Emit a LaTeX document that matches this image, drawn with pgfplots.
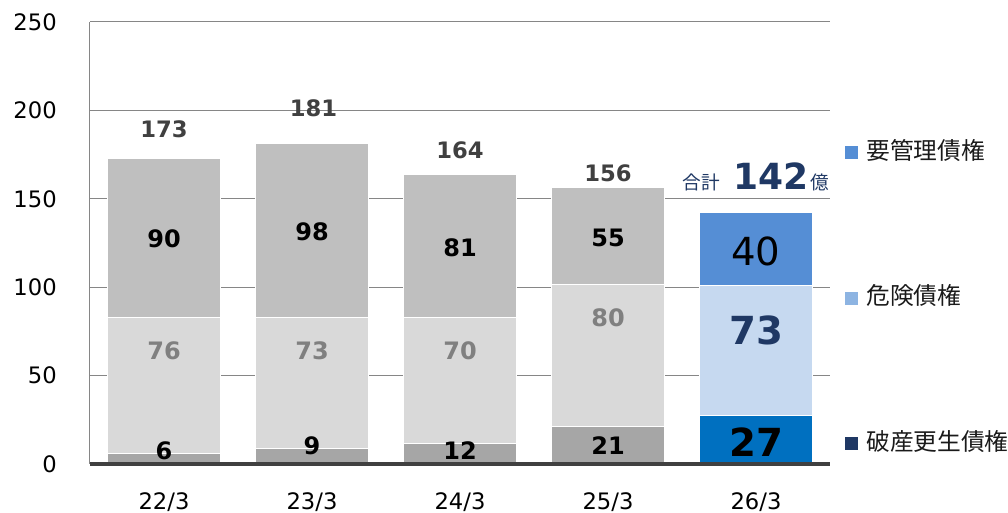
\documentclass[border=0pt]{standalone}
\usepackage{pgfplots}
\pgfplotsset{compat=1.18}
\usepackage{pgfplotstable}
\usepackage{fontspec}
\setmainfont{DejaVu Sans}
\newfontfamily\jp{Noto Sans CJK JP}
\definecolor{gtop}{HTML}{BFBFBF}
\definecolor{gmid}{HTML}{D9D9D9}
\definecolor{gbot}{HTML}{A6A6A6}
\definecolor{btop}{HTML}{558ED5}
\definecolor{bmid}{HTML}{C6D9F0}
\definecolor{bbot}{HTML}{0070C0}
\definecolor{legmid}{HTML}{8DB4E2}
\definecolor{navy}{HTML}{1F3864}
\definecolor{gridgray}{HTML}{868686}
\definecolor{axisdark}{HTML}{404040}
\definecolor{midlab}{HTML}{808080}
\definecolor{legtext}{HTML}{1A1A1A}

\pgfplotstableread{
x bot mid top
0 6.2 76.8 90
1 9 74 98
2 11.5 71.5 81
3 21 80.5 55
4 0 0 0
}\graytab
\pgfplotstableread{
x bot mid top
0 0 0 0
1 0 0 0
2 0 0 0
3 0 0 0
4 27.4 73.6 41
}\bluetab
\pgfplotstableread{
x y lab
0 189.1 173
1.01 201 181
2 177.2 164
3 164.2 156
}\totals
\pgfplotstableread{
x y lab
0 127.4 90
1 131.2 98
2 122.3 81
3 128 55
}\toplab
\pgfplotstableread{
x y lab
0 64.2 76
1 64.2 73
2 64.2 70
3 82.7 80
}\midlab
\pgfplotstableread{
x y lab
0 7.5 6
1 10.2 9
2 7.5 12
3 10.2 21
}\botlab

\begin{document}
\begin{tikzpicture}
\useasboundingbox (0,0) rectangle (756pt,384.75pt);
\begin{axis}[
  at={(67.5pt,36.75pt)}, anchor=south west,
  scale only axis, width=555pt, height=331.5pt,
  xmin=-0.5, xmax=4.5, ymin=0, ymax=250,
  ybar stacked, bar width=84.75pt,
  ytick={0,50,...,250},
  xtick={0,...,4}, xticklabels={22/3,23/3,24/3,25/3,26/3},
  ymajorgrids, grid style={color=gridgray, line width=0.75pt},
  axis lines*=left,
  x axis line style={line width=3pt, color=axisdark},
  y axis line style={line width=0.75pt, color=gridgray},
  major tick length=0pt, tick style={draw=none},
  ticklabel style={font=\fontsize{17}{20}\selectfont, inner sep=0pt, text=black},
  yticklabel style={anchor=east, xshift=-24.75pt},
  xticklabel style={anchor=north, yshift=-21pt},
  /pgf/number format/assume math mode=true,
  clip=false,
  reverse legend,
  legend cell align=left,
  legend style={at={(axis description cs:1.0203,0.7285)}, anchor=north west,
    draw=none, fill=none, inner sep=0pt, row sep=93pt,
    font=\jp\fontsize{17.8}{19}\selectfont, text=legtext,
    nodes={inner sep=0pt, text height=13pt, text depth=3pt},
    /tikz/every odd column/.append style={column sep=6pt}},
]
\addplot[fill=gbot, draw=white, line width=0.75pt, forget plot] table[x=x,y=bot] {\graytab};
\addplot[fill=gmid, draw=white, line width=0.75pt, forget plot] table[x=x,y=mid] {\graytab};
\addplot[fill=gtop, draw=white, line width=0.75pt, forget plot] table[x=x,y=top] {\graytab};
\addplot[fill=bbot, draw=white, line width=0.75pt,
  legend image code/.code={\fill[navy] (0pt,-4.5pt) rectangle (9pt,4.5pt);}] table[x=x,y=bot] {\bluetab};
\addlegendentry{破産更生債権}
\addplot[fill=bmid, draw=white, line width=0.75pt,
  legend image code/.code={\fill[legmid] (0pt,-4.5pt) rectangle (9pt,4.5pt);}] table[x=x,y=mid] {\bluetab};
\addlegendentry{危険債権}
\addplot[fill=btop, draw=white, line width=0.75pt,
  legend image code/.code={\fill[btop] (0pt,-4.5pt) rectangle (9pt,4.5pt);}] table[x=x,y=top] {\bluetab};
\addlegendentry{要管理債権}
\end{axis}
\begin{axis}[
  at={(67.5pt,36.75pt)}, anchor=south west,
  scale only axis, width=555pt, height=331.5pt,
  xmin=-0.5, xmax=4.5, ymin=0, ymax=250,
  axis x line*=bottom, axis y line=none,
  xtick=\empty, ytick=\empty,
  x axis line style={line width=3pt, color=axisdark, -},
  clip=false,
  point meta=explicit symbolic,
  every node near coord/.append style={anchor=center, inner sep=0pt},
]
\addplot[only marks, mark=none, nodes near coords,
  every node near coord/.append style={font=\bfseries\fontsize{17}{20}\selectfont, text=axisdark}]
  table[x=x,y=y,meta=lab] {\totals};
\addplot[only marks, mark=none, nodes near coords,
  every node near coord/.append style={font=\bfseries\fontsize{18}{20}\selectfont, text=black}]
  table[x=x,y=y,meta=lab] {\toplab};
\addplot[only marks, mark=none, nodes near coords,
  every node near coord/.append style={font=\bfseries\fontsize{18}{20}\selectfont, text=midlab}]
  table[x=x,y=y,meta=lab] {\midlab};
\addplot[only marks, mark=none, nodes near coords,
  every node near coord/.append style={font=\bfseries\fontsize{18}{20}\selectfont, text=black}]
  table[x=x,y=y,meta=lab] {\botlab};
\addplot[only marks, mark=none, nodes near coords,
  every node near coord/.append style={font=\fontsize{29}{30}\selectfont, text=black}]
  coordinates {(4,120) [40]};
\addplot[only marks, mark=none, nodes near coords,
  every node near coord/.append style={font=\bfseries\fontsize{29}{30}\selectfont, text=navy}]
  coordinates {(4,75.5) [73]};
\addplot[only marks, mark=none, nodes near coords,
  every node near coord/.append style={font=\bfseries\fontsize{29}{30}\selectfont, text=black}]
  coordinates {(4,12.3) [27]};
\node[anchor=base, text=navy, inner sep=0pt] at (axis cs:4,155.2)
  {{\jp\fontsize{14}{14}\selectfont 合計}\hspace{10pt}{\bfseries\fontsize{27}{28}\selectfont 142}\hspace{2pt}{\jp\fontsize{14}{14}\selectfont 億}};
\end{axis}
\end{tikzpicture}
\end{document}
